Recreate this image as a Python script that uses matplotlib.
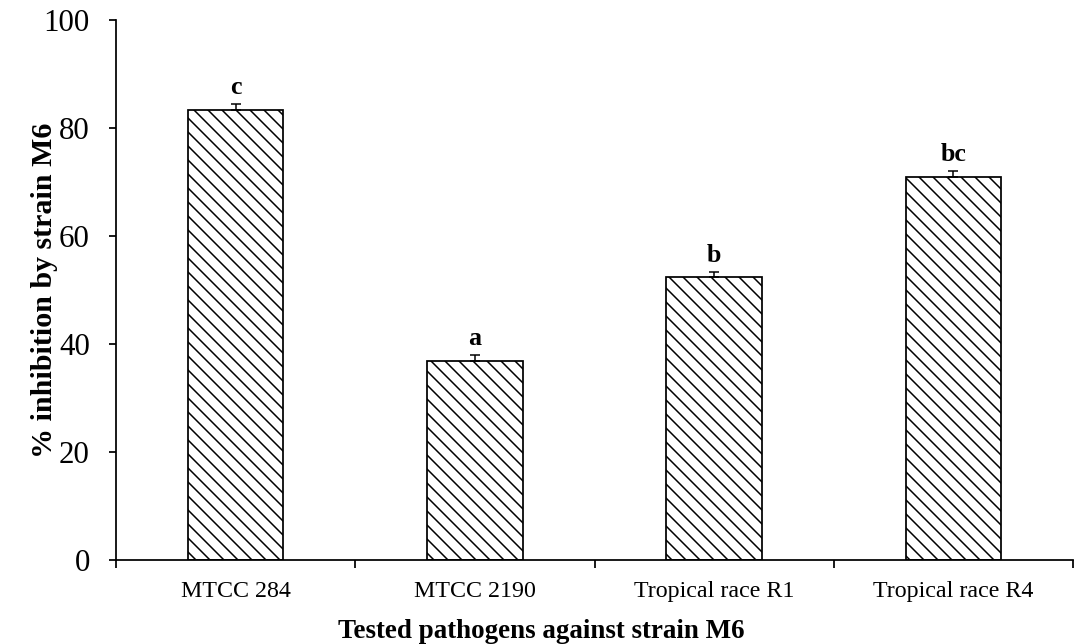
import numpy as np
import matplotlib.pyplot as plt

plt.rcParams['font.family'] = ['Liberation Serif', 'DejaVu Serif']
plt.rcParams['hatch.linewidth'] = 1.3

pathogens = ["MTCC 284", "MTCC 2190", "Tropical race R1", "Tropical race R4"]
inhibition = [83.4, 36.9, 52.4, 71.0]
std_err = [1.0, 1.1, 1.0, 1.0]
groups = ["c", "a", "b", "bc"]

DPI = 84
px = 72.0 / DPI  # points per pixel

fig = plt.figure(figsize=(1079 / DPI, 644 / DPI), dpi=DPI)
ax = fig.add_axes([116 / 1079, 1 - 560 / 644, (1073 - 116) / 1079, 540 / 644])

x = np.arange(len(pathogens))
ax.bar(x, inhibition, width=0.4, color="white", edgecolor="black",
       linewidth=1.5, hatch="\\\\", zorder=2)
ax.errorbar(x, inhibition, yerr=[np.zeros(len(x)), std_err], fmt="none",
            ecolor="black", elinewidth=1.3, capsize=5 * px, capthick=1.3,
            zorder=3)

for xi, v, e, g in zip(x, inhibition, std_err, groups):
    ax.annotate(g, (xi, v + e), xytext=(0, 10 * px), textcoords="offset points",
                ha="center", va="baseline", fontsize=26 * px, fontweight="bold")

ax.set_xlim(-0.5, len(pathogens) - 0.5)
ax.set_ylim(0, 100)
ax.set_yticks(np.arange(0, 101, 20))

# ticks sit between categories, labels sit under the bars
ax.set_xticks(np.arange(-0.5, len(pathogens), 1.0))
ax.set_xticklabels([])
ax.set_xticks(x, minor=True)
ax.set_xticklabels(pathogens, minor=True)
ax.tick_params(axis="x", which="major", direction="out", length=8 * px,
               width=1.5)
ax.tick_params(axis="x", which="minor", length=0, pad=21 * px,
               labelsize=24 * px)
ax.tick_params(axis="y", direction="out", length=7 * px, width=1.5,
               labelsize=31 * px, pad=19 * px)

for side in ["top", "right"]:
    ax.spines[side].set_visible(False)
for side in ["left", "bottom"]:
    ax.spines[side].set_linewidth(1.5)

fig.text(45 / 1079, 1 - 290 / 644, "% inhibition by strain M6", rotation=90,
         ha="center", va="center", fontsize=30 * px, fontweight="bold")
fig.text(541 / 1079, 1 - 638 / 644, "Tested pathogens against strain M6",
         ha="center", va="baseline", fontsize=27 * px, fontweight="bold")

fig.savefig("out.png", dpi=DPI)
